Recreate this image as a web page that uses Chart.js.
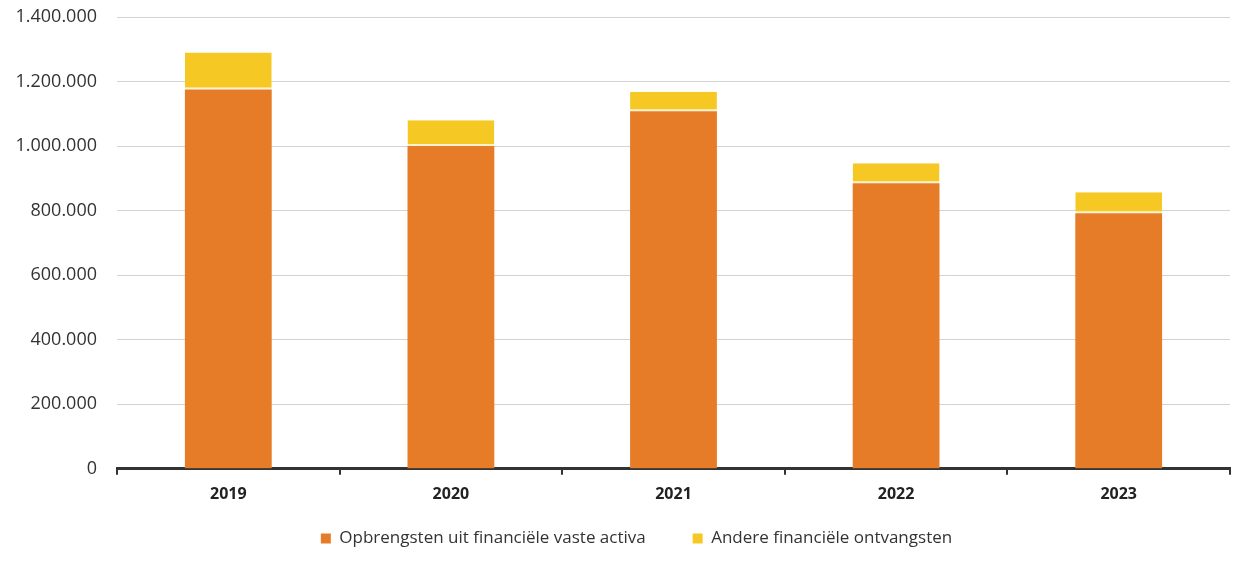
<!DOCTYPE html>
<html>
<head>
<meta charset="utf-8">
<script src="https://cdn.jsdelivr.net/npm/chart.js@4"></script>
<style>
  html, body { margin: 0; padding: 0; background: #fff; }
</style>
</head>
<body>
<canvas id="myChart" width="1243" height="562"></canvas>
<script>
const jaren = ['2019', '2020', '2021', '2022', '2023'];
const opbrengstenVasteActiva = [1175000, 1000000, 1108000, 885000, 792000];
const andereOntvangsten = [115000, 80000, 60000, 62000, 65000];

const fmt = v => v.toLocaleString('nl-NL');

// legenda iets naar rechts, zoals in het origineel
const legendShift = {
    id: 'legendShift',
    afterLayout(chart) {
        chart.legend.left += 13;
        chart.legend.right += 13;
    }
};

const options = {
    type: 'bar',
    data: {
        labels: jaren,
        datasets: [
            {
                label: 'Opbrengsten uit financiële vaste activa',
                data: opbrengstenVasteActiva,
                backgroundColor: '#e67c28',
                barPercentage: 0.39,
                categoryPercentage: 1
            },
            {
                label: 'Andere financiële ontvangsten',
                data: andereOntvangsten,
                backgroundColor: '#f5c823',
                borderColor: '#fff3d0',
                borderWidth: {top: 0, left: 0, right: 0, bottom: 2},
                borderSkipped: false,
                barPercentage: 0.39,
                categoryPercentage: 1
            }
        ]
    },
    plugins: [legendShift],
    options: {
        responsive: false,
        animation: false,
        layout: {padding: {top: 0, right: 13, left: 17, bottom: 5}},
        plugins: {
            tooltip: {enabled: false},
            legend: {
                position: 'bottom',
                labels: {
                    boxWidth: 10,
                    boxHeight: 10,
                    padding: 16,
                    color: '#333',
                    font: {family: 'Open Sans', size: 17},
                    // extra ruimte tussen de twee legenda-items
                    generateLabels: chart => {
                        const items = Chart.defaults.plugins.legend.labels.generateLabels(chart);
                        items.forEach((it, i) => {
                            it.lineWidth = 0;
                            if (i < items.length - 1) it.text = it.text + '       ';
                        });
                        return items;
                    }
                }
            }
        },
        scales: {
            x: {
                stacked: true,
                border: {color: '#333', width: 3},
                grid: {
                    display: true,
                    drawOnChartArea: false,
                    color: '#333',
                    lineWidth: 2,
                    tickLength: 6
                },
                ticks: {
                    color: '#222',
                    padding: 10,
                    font: {family: 'Open Sans', size: 16, weight: 'bold'}
                }
            },
            y: {
                stacked: true,
                min: 0,
                max: 1400000,
                border: {display: false},
                grid: {color: '#d3d3d3', lineWidth: 1, tickLength: 0},
                ticks: {
                    stepSize: 200000,
                    padding: 20,
                    color: '#333',
                    font: {family: 'Open Sans', size: 18},
                    callback: v => fmt(v)
                },
                afterFit: scale => {
                    scale.width = 100;
                    scale.paddingTop = 17;
                    scale.paddingBottom = 0;
                }
            }
        }
    }
};

const ctx = document.getElementById('myChart').getContext('2d');
const chart = new Chart(ctx, options);
</script>
</body>
</html>
